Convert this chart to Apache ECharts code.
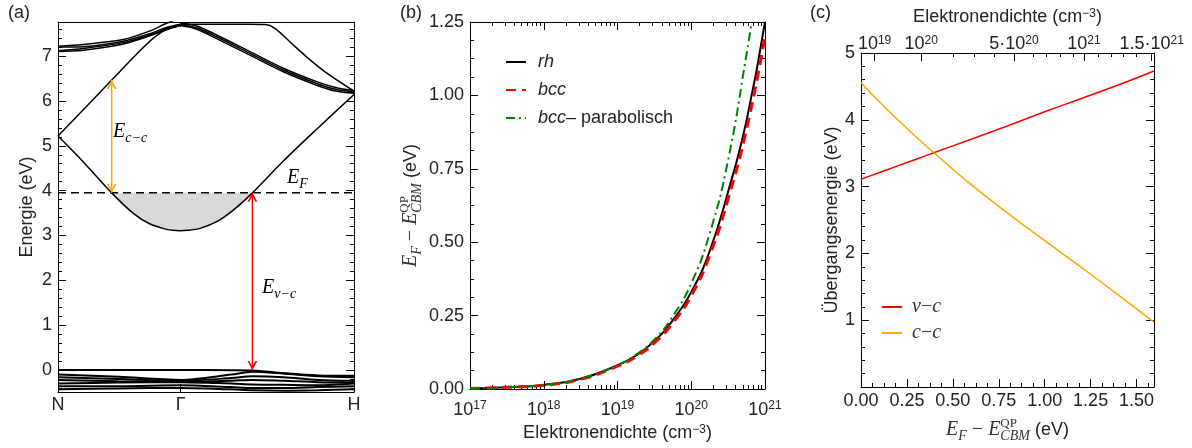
<!DOCTYPE html>
<html><head><meta charset="utf-8">
<script src="https://cdn.jsdelivr.net/npm/echarts@6/dist/echarts.min.js"></script>
<style>html,body{margin:0;padding:0;background:#fff}#c{width:1192px;height:448px}</style>
</head><body><div id="c"></div>
<script>
// ================= DATA =================
// ---- Panel (a): band structure along N - Γ - H ----
const kTicks = [0, 0.707, 1.707];
const kTickLabels = ['N', 'Γ', 'H'];
const eTicksA = [0, 1, 2, 3, 4, 5, 6, 7];
const eFermi = 3.95;

const cb1K = [0, 0.146, 0.3095, 0.4344, 0.5306, 0.6267, 0.66, 0.7036, 0.75, 0.819, 0.915, 1.011, 1.121, 1.2995, 1.4917, 1.707];
const cb1E = [5.216, 4.64, 3.95, 3.492, 3.255, 3.136, 3.115, 3.106, 3.115, 3.158, 3.307, 3.567, 3.95, 4.66, 5.37, 6.145];

const cb2K = [0, 0.1, 0.2, 0.3095, 0.45, 0.55, 0.627, 0.68, 0.707];
const cb2E = [5.216, 5.62, 6.02, 6.465, 7.03, 7.40, 7.60, 7.68, 7.70];

const upLeftK = [0, 0.146, 0.377, 0.53, 0.62, 0.707];
const upLeft1 = [7.22, 7.26, 7.37, 7.56, 7.72, 7.86];
const upLeft2 = [7.20, 7.21, 7.33, 7.50, 7.63, 7.71];
const upLeft3 = [7.12, 7.17, 7.30, 7.47, 7.60, 7.70];
const upLeft4 = [7.10, 7.13, 7.27, 7.45, 7.58, 7.68];

const bundleK = [0.707, 0.8, 0.915, 1.107, 1.2995, 1.4917, 1.6, 1.707];
const bundle1 = [7.74, 7.67, 7.47, 7.10, 6.73, 6.43, 6.30, 6.23];
const bundle2 = [7.70, 7.63, 7.43, 7.06, 6.69, 6.39, 6.26, 6.20];
const bundle3 = [7.68, 7.60, 7.39, 7.02, 6.65, 6.35, 6.22, 6.17];

const flatK = [0.707, 0.9, 1.1, 1.194, 1.251, 1.348, 1.44, 1.54, 1.707];
const flatE = [7.71, 7.71, 7.71, 7.705, 7.62, 7.28, 6.96, 6.65, 6.22];

const vbK = [0, 0.35, 0.707, 1.0, 1.12, 1.3, 1.5, 1.707];
const vb1 = [0.00, 0.00, 0.00, -0.005, -0.01, -0.07, -0.12, -0.13];
const vb2 = [-0.10, -0.15, -0.22, -0.10, -0.04, -0.08, -0.14, -0.16];
const vb3 = [-0.16, -0.20, -0.24, -0.18, -0.14, -0.16, -0.22, -0.24];
const vb4 = [-0.22, -0.25, -0.26, -0.24, -0.22, -0.24, -0.27, -0.28];
const vb5 = [-0.30, -0.28, -0.27, -0.30, -0.32, -0.33, -0.34, -0.30];
const vb6 = [-0.36, -0.36, -0.34, -0.38, -0.40, -0.40, -0.38, -0.36];
const vb7 = [-0.43, -0.41, -0.40, -0.43, -0.45, -0.46, -0.45, -0.43];

const arrowCC = [0.3095, 3.95, 6.465];   // k, E from, E to
const arrowVC = [1.121, 0.0, 3.95];

// ---- Panel (b): E_F - E_CBM vs. electron density ----
const densB = [1e17, 3.16e17, 1e18, 3.16e18, 1e19, 1.78e19, 3.16e19, 5.62e19, 1e20, 1.78e20, 3.16e20, 5.62e20, 1e21];
const efRh  = [0.002, 0.006, 0.014, 0.035, 0.081, 0.114, 0.163, 0.234, 0.330, 0.470, 0.672, 0.915, 1.25];
const efBcc = [0.002, 0.006, 0.013, 0.033, 0.078, 0.110, 0.157, 0.225, 0.318, 0.455, 0.648, 0.885, 1.20];
const densPar = [1e17, 3.16e17, 1e18, 3.16e18, 1e19, 1.78e19, 3.16e19, 5.62e19, 1e20, 1.78e20, 3.16e20, 5.62e20, 6.6e20];
const efPar = [0.002, 0.006, 0.014, 0.035, 0.081, 0.117, 0.168, 0.248, 0.360, 0.530, 0.780, 1.140, 1.25];

// ---- Panel (c): transition energies vs. E_F ----
const efC = [0, 0.05, 0.1, 0.2, 0.3, 0.4, 0.6, 0.8, 1.0, 1.2, 1.4, 1.595];
const eVC = [3.11, 3.16, 3.21, 3.31, 3.41, 3.51, 3.71, 3.91, 4.12, 4.32, 4.52, 4.73];
const eCC = [4.56, 4.41, 4.27, 4.00, 3.745, 3.50, 3.03, 2.60, 2.19, 1.79, 1.38, 0.97];
const densTopPos = [0.074, 0.328, 0.833, 1.214, 1.582];
const densTopLabels = ['10{s|19}', '10{s|20}', '5·10{s|20}', '10{s|21}', '1.5·10{s|21}'];
const densTopMinorPos = [0.500, 0.617, 0.726, 0.935, 1.011, 1.083, 1.156, 1.29, 1.36, 1.43, 1.50];

// ================= STYLE / HELPERS =================
const SANS = "'Liberation Sans', Arial, sans-serif";
const SERIF = "'Liberation Serif', 'Times New Roman', serif";
const TXT = '#222';
const pairs = (xs, ys) => xs.map((x, i) => [x, ys[i]]);
const near = (v, list) => list.findIndex(t => Math.abs(t - v) < 1e-6);
function steps(a, b, st, skip) {
  const out = [];
  for (let i = 0; ; i++) {
    const v = +(a + i * st).toFixed(6);
    if (v > b + 1e-9) break;
    if (!skip || Math.abs(v / skip - Math.round(v / skip)) > 1e-6) out.push(v);
  }
  return out;
}

function mkAxis(p) {
  const a = {
    type: 'value', gridIndex: p.grid, position: p.pos, min: p.min, max: p.max,
    splitLine: { show: false },
    axisLine: { show: p.line !== false, onZero: false, lineStyle: { color: '#000', width: 1 } },
    axisTick: { show: true, inside: true, length: p.len || 8, lineStyle: { color: '#000', width: 1 } },
    axisLabel: { show: !!p.fmt, color: TXT, fontFamily: SANS, fontSize: 18, margin: p.margin == null ? 6 : p.margin,
      formatter: p.fmt, rich: p.rich },
  };
  if (p.interval != null) a.interval = p.interval;
  if (p.ticks) { a.axisTick.customValues = p.ticks; if (p.fmt) a.axisLabel.customValues = p.ticks; }
  if (p.name) {
    a.name = p.name; a.nameLocation = 'middle'; a.nameGap = p.nameGap;
    if (p.nameRotate != null) a.nameRotate = p.nameRotate;
    a.nameTextStyle = Object.assign({ color: TXT, fontFamily: SANS, fontSize: 18 }, p.nameStyle || {});
  }
  return a;
}

const supRich = {
  b: { fontFamily: SANS, fontSize: 18, color: TXT, lineHeight: 20 },
  s: { fontFamily: SANS, fontSize: 12, color: TXT, lineHeight: 10, verticalAlign: 'top' }
};
const mathRich = {
  m: { fontFamily: SERIF, fontStyle: 'italic', fontSize: 20, color: '#333', lineHeight: 26, align: 'left' },
  mr: { fontFamily: SERIF, fontSize: 20, color: '#333', lineHeight: 26, align: 'left' },
  sb: { fontFamily: SERIF, fontStyle: 'italic', fontSize: 14, color: '#333', lineHeight: 12, verticalAlign: 'bottom', align: 'left' },
  sp: { fontFamily: SERIF, fontSize: 13, color: '#333', lineHeight: 11, verticalAlign: 'top', width: 0, align: 'left' },
  t: { fontFamily: SANS, fontSize: 18, color: TXT, lineHeight: 26, align: 'left' },
  ts: { fontFamily: SANS, fontSize: 12, color: TXT, lineHeight: 10, verticalAlign: 'top', align: 'left' }
};
const efName = '{m|E}{sb|F}{mr| − }{m|E}{sp|QP}{sb|CBM}{t| (eV)}';

// ================= AXES =================
const logMinor = [17, 18, 19, 20].flatMap(d => [2, 3, 4, 5, 6, 7, 8, 9].map(m => d + Math.log10(m)));
const xAxes = [
  // panel a
  mkAxis({ grid: 0, pos: 'bottom', min: 0, max: 1.707, ticks: kTicks, margin: 4,
    fmt: v => kTickLabels[near(v, kTicks)] || '' }),
  mkAxis({ grid: 0, pos: 'top', min: 0, max: 1.707, ticks: [kTicks[1]], len: 5 }),
  // panel b
  mkAxis({ grid: 1, pos: 'bottom', min: 17, max: 21, interval: 1, margin: 11,
    fmt: v => '{b|10}{s|' + v + '}', rich: supRich,
    name: 'Elektronendichte (cm{ts|−3})', nameGap: 32, nameStyle: { rich: mathRich } }),
  mkAxis({ grid: 1, pos: 'bottom', min: 17, max: 21, line: false, len: 4, ticks: logMinor }),
  mkAxis({ grid: 1, pos: 'top', min: 17, max: 21, interval: 1 }),
  mkAxis({ grid: 1, pos: 'top', min: 17, max: 21, line: false, len: 4, ticks: logMinor }),
  // panel c
  mkAxis({ grid: 2, pos: 'bottom', min: 0, max: 1.595, interval: 0.25, margin: 5,
    fmt: v => (Math.abs(v / 0.25 - Math.round(v / 0.25)) < 1e-6 ? v.toFixed(2) : ''),
    name: efName, nameGap: 30, nameStyle: { rich: mathRich } }),
  mkAxis({ grid: 2, pos: 'bottom', min: 0, max: 1.595, line: false, len: 4, ticks: steps(0, 1.59, 0.0625, 0.25) }),
  mkAxis({ grid: 2, pos: 'top', min: 0, max: 1.595, ticks: densTopPos, margin: 0,
    fmt: v => densTopLabels[near(v, densTopPos)] || '', rich: supRich,
    name: 'Elektronendichte (cm{ts|−3})', nameGap: 27, nameStyle: { rich: mathRich } }),
  mkAxis({ grid: 2, pos: 'top', min: 0, max: 1.595, line: false, len: 4, ticks: densTopMinorPos }),
];

const yAxes = [
  // panel a
  mkAxis({ grid: 0, pos: 'left', min: -0.49, max: 7.76, ticks: eTicksA, fmt: v => String(v),
    name: 'Energie (eV)', nameGap: 22, nameRotate: 90 }),
  mkAxis({ grid: 0, pos: 'left', min: -0.49, max: 7.76, line: false, len: 4, ticks: steps(-0.4, 7.6, 0.2, 1) }),
  mkAxis({ grid: 0, pos: 'right', min: -0.49, max: 7.76, ticks: eTicksA }),
  mkAxis({ grid: 0, pos: 'right', min: -0.49, max: 7.76, line: false, len: 4, ticks: steps(-0.4, 7.6, 0.2, 1) }),
  // panel b
  mkAxis({ grid: 1, pos: 'left', min: 0, max: 1.25, interval: 0.25, fmt: v => v.toFixed(2),
    name: efName, nameGap: 46, nameRotate: 90, nameStyle: { rich: mathRich } }),
  mkAxis({ grid: 1, pos: 'left', min: 0, max: 1.25, line: false, len: 4, ticks: steps(0, 1.25, 0.0625, 0.25) }),
  mkAxis({ grid: 1, pos: 'right', min: 0, max: 1.25, interval: 0.25 }),
  mkAxis({ grid: 1, pos: 'right', min: 0, max: 1.25, line: false, len: 4, ticks: steps(0, 1.25, 0.0625, 0.25) }),
  // panel c
  mkAxis({ grid: 2, pos: 'left', min: 0, max: 5, interval: 1, fmt: v => (v === 0 ? '' : String(v)),
    name: 'Übergangsenergie (eV)', nameGap: 20, nameRotate: 90 }),
  mkAxis({ grid: 2, pos: 'left', min: 0, max: 5, line: false, len: 4, ticks: steps(0, 5, 0.2, 1) }),
  mkAxis({ grid: 2, pos: 'right', min: 0, max: 5, interval: 1 }),
  mkAxis({ grid: 2, pos: 'right', min: 0, max: 5, line: false, len: 4, ticks: steps(0, 5, 0.2, 1) }),
];

// ================= SERIES =================
const bandLine = (name, ks, es, w) => ({
  type: 'line', name, xAxisIndex: 0, yAxisIndex: 0, data: pairs(ks, es), smooth: 0.3,
  symbol: 'none', z: 3, lineStyle: { color: '#000', width: w || 1.5 }
});
const chevron = 'path://M0,10L5,0L10,10L8.1,10L5,3.8L1.9,10Z';
const arrowSeries = (arr, color) => ({
  type: 'line', xAxisIndex: 0, yAxisIndex: 0, z: 5, symbol: chevron, symbolSize: [10, 9], showSymbol: true,
  lineStyle: { color, width: 1.5 }, itemStyle: { color },
  data: [
    { value: [arr[0], arr[1]], symbolRotate: 180, symbolOffset: [0, '-50%'] },
    { value: [arr[0], arr[2]], symbolRotate: 0, symbolOffset: [0, '50%'] }
  ]
});
const fillPts = pairs(cb1K, cb1E).filter(p => p[0] >= arrowCC[0] - 1e-6 && p[0] <= arrowVC[0] + 1e-6);

const series = [
  { type: 'line', xAxisIndex: 0, yAxisIndex: 0, data: fillPts, smooth: 0.3, symbol: 'none', z: 1,
    lineStyle: { width: 0 }, areaStyle: { color: '#d9d9d9', opacity: 1, origin: eFermi } },
  bandLine('cb1', cb1K, cb1E), bandLine('cb2', cb2K, cb2E),
  bandLine('ul1', upLeftK, upLeft1), bandLine('ul2', upLeftK, upLeft2),
  bandLine('ul3', upLeftK, upLeft3), bandLine('ul4', upLeftK, upLeft4),
  bandLine('b1', bundleK, bundle1), bandLine('b2', bundleK, bundle2), bandLine('b3', bundleK, bundle3),
  bandLine('flat', flatK, flatE),
  bandLine('vb1', vbK, vb1, 2), bandLine('vb2', vbK, vb2, 2), bandLine('vb3', vbK, vb3, 2),
  bandLine('vb4', vbK, vb4, 2), bandLine('vb5', vbK, vb5, 2), bandLine('vb6', vbK, vb6, 2), bandLine('vb7', vbK, vb7, 2),
  { type: 'line', xAxisIndex: 0, yAxisIndex: 0, data: [[kTicks[0], eFermi], [kTicks[2], eFermi]], symbol: 'none', z: 4,
    lineStyle: { color: '#000', width: 1.5, type: [8, 5] } },
  arrowSeries(arrowCC, '#ffa500'),
  arrowSeries(arrowVC, '#ff0000'),
  // panel b
  { type: 'line', name: 'rh', xAxisIndex: 2, yAxisIndex: 4, data: pairs(densB.map(Math.log10), efRh), smooth: true,
    symbol: 'none', z: 3, lineStyle: { color: '#000', width: 2 }, itemStyle: { color: '#000' } },
  { type: 'line', name: 'bcc', xAxisIndex: 2, yAxisIndex: 4, data: pairs(densB.map(Math.log10), efBcc), smooth: true,
    symbol: 'none', z: 4, lineStyle: { color: '#ff0000', width: 3, type: [10, 6] }, itemStyle: { color: '#ff0000' } },
  { type: 'line', name: 'par', xAxisIndex: 2, yAxisIndex: 4, data: pairs(densPar.map(Math.log10), efPar), smooth: true,
    symbol: 'none', z: 5, lineStyle: { color: '#008000', width: 2, type: [9, 4, 2, 4] }, itemStyle: { color: '#008000' } },
  // panel c
  { type: 'line', name: 'vc', xAxisIndex: 6, yAxisIndex: 8, data: pairs(efC, eVC), smooth: true,
    symbol: 'none', lineStyle: { color: '#ff0000', width: 1.5 }, itemStyle: { color: '#ff0000' } },
  { type: 'line', name: 'cc', xAxisIndex: 6, yAxisIndex: 8, data: pairs(efC, eCC), smooth: true,
    symbol: 'none', lineStyle: { color: '#ffa500', width: 1.5 }, itemStyle: { color: '#ffa500' } },
];

const legRich = {
  i: { fontFamily: SANS, fontStyle: 'italic', fontSize: 18, color: TXT, padding: [0, 0, 0, 7] },
  t: { fontFamily: SANS, fontSize: 18, color: TXT },
  m: { fontFamily: SERIF, fontStyle: 'italic', fontSize: 20, color: '#333', padding: [0, 0, 0, 5] },
  mr: { fontFamily: SERIF, fontSize: 20, color: '#333' },
  mi: { fontFamily: SERIF, fontStyle: 'italic', fontSize: 20, color: '#333' }
};
const legendLabels = { rh: '{i|rh}', bcc: '{i|bcc}', par: '{i|bcc}{t|– parabolisch}', vc: '{m|v}{mr|−}{mi|c}', cc: '{m|c}{mr|−}{mi|c}' };

const option = {
  animation: false,
  backgroundColor: '#fff',
  grid: [
    { left: 58, top: 22, width: 296, height: 370 },
    { left: 470, top: 22, width: 295, height: 367 },
    { left: 861, top: 53, width: 293, height: 336 }
  ],
  xAxis: xAxes, yAxis: yAxes, series,
  legend: [
    { data: ['rh', 'bcc', 'par'], left: 500, top: 48, orient: 'vertical', itemWidth: 20, itemHeight: 14, itemGap: 10,
      itemStyle: { opacity: 0 }, formatter: n => legendLabels[n], textStyle: { rich: legRich, fontSize: 18 } },
    { data: ['vc', 'cc'], left: 876, top: 292, orient: 'vertical', itemWidth: 20, itemHeight: 14, itemGap: 6,
      itemStyle: { opacity: 0 }, formatter: n => legendLabels[n], textStyle: { rich: legRich, fontSize: 20 } }
  ],
  graphic: [
    { type: 'text', left: 8, top: 4, style: { text: '(a)', font: '18px ' + SANS, fill: TXT } },
    { type: 'text', left: 400, top: 4, style: { text: '(b)', font: '18px ' + SANS, fill: TXT } },
    { type: 'text', left: 810, top: 4, style: { text: '(c)', font: '18px ' + SANS, fill: TXT } },
    { type: 'text', x: 113, y: 132, style: { text: '{m|E}{sb|c−c}', rich: mathRich, verticalAlign: 'middle' } },
    { type: 'text', x: 262, y: 288, style: { text: '{m|E}{sb|v−c}', rich: mathRich, verticalAlign: 'middle' } },
    { type: 'text', x: 287, y: 178, style: { text: '{m|E}{sb|F}', rich: mathRich, verticalAlign: 'middle' } }
  ]
};
const chart = echarts.init(document.getElementById('c'), null, { renderer: 'canvas' });
chart.setOption(option);
</script></body></html>
